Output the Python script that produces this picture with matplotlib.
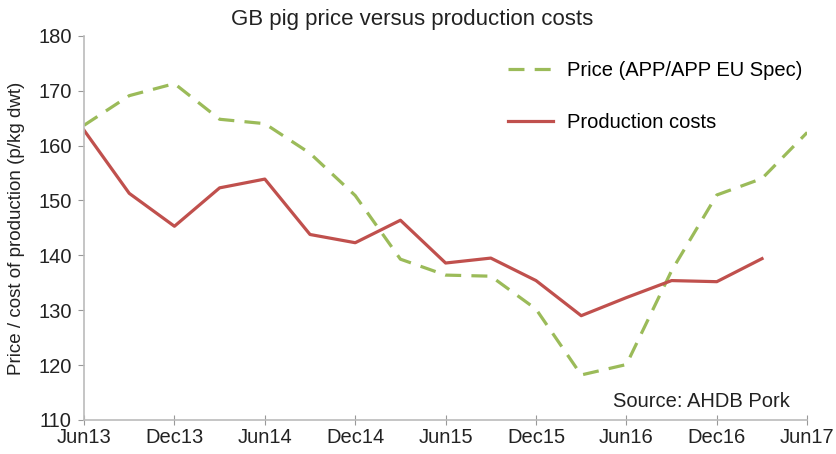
import numpy as np
import matplotlib
matplotlib.use('Agg')
import matplotlib.pyplot as plt

matplotlib.rcParams.update({'font.size': 14, 'font.family': 'Liberation Sans'})

# quarterly observations, Jun13 onwards
quarters = np.arange(17)
price = [163.7, 169.1, 171.3, 164.8, 164.0, 158.6, 150.9, 139.3, 136.4,
         136.2, 130.2, 118.2, 120.1, 137.2, 151.0, 154.0, 162.4]
costs = [162.8, 151.3, 145.3, 152.3, 153.9, 143.8, 142.3, 146.4, 138.6,
         139.5, 135.4, 129.0, 132.3, 135.4, 135.2, 139.4]
tick_labels = ['Jun13', 'Dec13', 'Jun14', 'Dec14', 'Jun15', 'Dec15',
               'Jun16', 'Dec16', 'Jun17']

fig = plt.figure(figsize=(8.37, 4.54), dpi=100)
ax = fig.add_axes([0.1004, 0.075, 0.864, 0.846])

ax.plot(quarters, price, color='#9bbb59', lw=2.3, dashes=(5, 3.2),
        label='Price (APP/APP EU Spec)')
ax.plot(quarters[:len(costs)], costs, color='#c0504d', lw=2.3,
        label='Production costs')

ax.set_xlim(0, 16)
ax.set_ylim(110, 180)
ax.set_xticks(np.arange(0, 17, 2))
ax.set_xticklabels(tick_labels)
ax.set_yticks(np.arange(110, 181, 10))
ax.tick_params(axis='both', colors='#999999', labelcolor='#222222',
               labelsize=14.5, length=4)
ax.tick_params(axis='x', direction='inout', length=7, pad=2)
ax.tick_params(axis='y', pad=5)
for s in ['top', 'right']:
    ax.spines[s].set_visible(False)
for s in ['left', 'bottom']:
    ax.spines[s].set_color('#bbbbbb')
    ax.spines[s].set_linewidth(1.2)

ax.set_ylabel('Price / cost of production (p/kg dwt)', fontsize=13.5, color='#222222')
ax.yaxis.set_label_coords(-0.082, 0.5)
fig.text(0.492, 0.958, 'GB pig price versus production costs', ha='center',
         va='center', fontsize=16, color='#222222')

ax.legend(loc='upper left', bbox_to_anchor=(0.561, 0.982), frameon=False,
          handlelength=2.25, labelspacing=1.65, handletextpad=0.7,
          borderpad=0.4, fontsize=14.5)
ax.text(0.731, 0.035, 'Source: AHDB Pork', transform=ax.transAxes,
        fontsize=14.5, color='#222222')

plt.savefig('out.png', dpi=100)
